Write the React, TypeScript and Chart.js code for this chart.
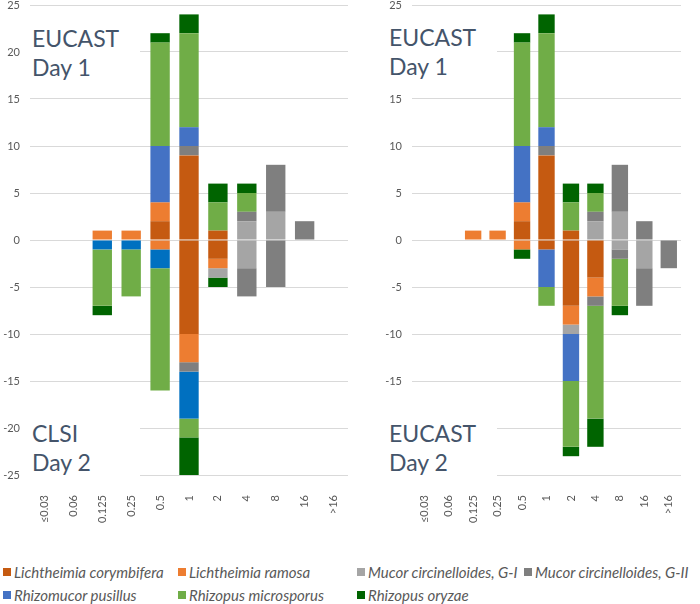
import React, { useEffect, useRef } from "react";
import { Chart, registerables } from "chart.js";

Chart.register(...registerables);

// ---------- DATA ----------
const categories = ["≤0.03", "0.06", "0.125", "0.25", "0.5", "1", "2", "4", "8", "16", ">16"];

const seriesNames = [
  "Lichtheimia corymbifera",
  "Lichtheimia ramosa",
  "Mucor circinelloides, G-I",
  "Mucor circinelloides, G-II",
  "Rhizomucor pusillus",
  "Rhizopus microsporus",
  "Rhizopus oryzae",
];

const seriesColors = ["#C55A11", "#ED7D31", "#A5A5A5", "#7F7F7F", "#4472C4", "#70AD47", "#006400"];
const clsiDay2Colors = ["#C55A11", "#ED7D31", "#A5A5A5", "#7F7F7F", "#0070C0", "#70AD47", "#006400"];

// EUCAST Day 1 (positive, both panels)
const d1Corymbifera = [0, 0, 0, 0, 2, 9, 1, 0, 0, 0, 0];
const d1Ramosa = [0, 0, 1, 1, 2, 0, 0, 0, 0, 0, 0];
const d1MucorGI = [0, 0, 0, 0, 0, 0, 0, 2, 3, 0, 0];
const d1MucorGII = [0, 0, 0, 0, 0, 1, 0, 1, 5, 2, 0];
const d1Pusillus = [0, 0, 0, 0, 6, 2, 0, 0, 0, 0, 0];
const d1Microsporus = [0, 0, 0, 0, 11, 10, 3, 2, 0, 0, 0];
const d1Oryzae = [0, 0, 0, 0, 1, 2, 2, 1, 0, 0, 0];

// CLSI Day 2 (negative, left panel)
const clsiCorymbifera = [0, 0, 0, 0, 0, -10, -2, 0, 0, 0, 0];
const clsiRamosa = [0, 0, 0, 0, -1, -3, -1, 0, 0, 0, 0];
const clsiMucorGI = [0, 0, 0, 0, 0, 0, -1, -3, 0, 0, 0];
const clsiMucorGII = [0, 0, 0, 0, 0, -1, 0, -3, -5, 0, 0];
const clsiPusillus = [0, 0, -1, -1, -2, -5, 0, 0, 0, 0, 0];
const clsiMicrosporus = [0, 0, -6, -5, -13, -2, 0, 0, 0, 0, 0];
const clsiOryzae = [0, 0, -1, 0, 0, -4, -1, 0, 0, 0, 0];

// EUCAST Day 2 (negative, right panel)
const e2Corymbifera = [0, 0, 0, 0, 0, -1, -7, -4, 0, 0, 0];
const e2Ramosa = [0, 0, 0, 0, -1, 0, -2, -2, 0, 0, 0];
const e2MucorGI = [0, 0, 0, 0, 0, 0, -1, 0, -1, -3, 0];
const e2MucorGII = [0, 0, 0, 0, 0, 0, 0, -1, -1, -4, -3];
const e2Pusillus = [0, 0, 0, 0, 0, -4, -5, 0, 0, 0, 0];
const e2Microsporus = [0, 0, 0, 0, 0, -2, -7, -12, -5, 0, 0];
const e2Oryzae = [0, 0, 0, 0, -1, 0, -1, -3, -1, 0, 0];

const eucastDay1 = [d1Corymbifera, d1Ramosa, d1MucorGI, d1MucorGII, d1Pusillus, d1Microsporus, d1Oryzae];
const clsiDay2 = [clsiCorymbifera, clsiRamosa, clsiMucorGI, clsiMucorGII, clsiPusillus, clsiMicrosporus, clsiOryzae];
const eucastDay2 = [e2Corymbifera, e2Ramosa, e2MucorGI, e2MucorGII, e2Pusillus, e2Microsporus, e2Oryzae];

const yMin = -25;
const yMax = 25;
const yStep = 5;

// ---------- STYLE ----------
const TICK_COLOR = "#595959";
const GRID_COLOR = "#D9D9D9";
const TITLE_COLOR = "#44546A";
const FONT = "Lato, 'Open Sans', sans-serif";

function buildChart(
  canvas: HTMLCanvasElement,
  day1: number[][],
  day2: number[][],
  day2Colors: string[],
  yAxisWidth: number,
  rightPad: number
) {
  const datasets: any[] = [];
  day1.forEach((vals, i) => {
    datasets.push({
      label: seriesNames[i],
      data: vals.map((v) => (v === 0 ? null : v)),
      backgroundColor: seriesColors[i],
      stack: "s",
      barPercentage: 0.67,
      categoryPercentage: 1,
      borderWidth: 0,
    });
  });
  day2.forEach((vals, i) => {
    datasets.push({
      label: seriesNames[i] + " (day 2)",
      data: vals.map((v) => (v === 0 ? null : v)),
      backgroundColor: day2Colors[i],
      stack: "s",
      barPercentage: 0.67,
      categoryPercentage: 1,
      borderWidth: 0,
    });
  });

  return new Chart(canvas, {
    type: "bar",
    data: { labels: categories, datasets },
    options: {
      responsive: false,
      animation: false,
      devicePixelRatio: 1,
      layout: { padding: { left: 0, right: rightPad, top: 5, bottom: 0 } },
      plugins: { legend: { display: false }, tooltip: { enabled: false } },
      scales: {
        x: {
          stacked: true,
          grid: { display: false },
          border: { display: false },
          ticks: {
            minRotation: 90,
            maxRotation: 90,
            autoSkip: false,
            padding: 12,
            color: TICK_COLOR,
            font: { family: FONT, size: 11 },
          },
          afterFit: (s: any) => {
            s.height = 55;
            s.paddingLeft = 0;
            s.paddingRight = 0;
          },
        },
        y: {
          stacked: true,
          min: yMin,
          max: yMax,
          ticks: {
            stepSize: yStep,
            padding: 10,
            color: TICK_COLOR,
            font: { family: FONT, size: 11 },
          },
          grid: { color: GRID_COLOR, drawTicks: false, lineWidth: 1 },
          border: { display: false },
          afterFit: (s: any) => {
            s.width = yAxisWidth;
            s.paddingTop = 0;
            s.paddingBottom = 0;
          },
        },
      },
    } as any,
  });
}

const titleStyle = (left: number, top: number, width: number, height: number, padTop: number, padLeft: number): React.CSSProperties => ({
  position: "absolute",
  left,
  top,
  width: width - padLeft,
  height: height - padTop,
  paddingTop: padTop,
  paddingLeft: padLeft,
  background: "#FFFFFF",
  color: TITLE_COLOR,
  fontFamily: FONT,
  fontSize: 23,
  lineHeight: "29px",
  whiteSpace: "nowrap",
});

const legendCols = [3, 178, 357, 524];
const legendRows = [572, 595];
const legendPlacement = [
  [0, 0],
  [1, 0],
  [2, 0],
  [3, 0],
  [0, 1],
  [1, 1],
  [2, 1],
];

export default function App() {
  const leftRef = useRef<HTMLCanvasElement>(null);
  const rightRef = useRef<HTMLCanvasElement>(null);

  useEffect(() => {
    const c1 = buildChart(leftRef.current!, eucastDay1, clsiDay2, clsiDay2Colors, 30, 2);
    const c2 = buildChart(rightRef.current!, eucastDay1, eucastDay2, seriesColors, 62, 19);
    return () => {
      c1.destroy();
      c2.destroy();
    };
  }, []);

  return (
    <div style={{ position: "absolute", left: 0, top: 0, width: 700, height: 604, background: "#FFFFFF", overflow: "hidden" }}>
      <canvas ref={leftRef} width={350} height={530} style={{ position: "absolute", left: 0, top: 0, width: 350, height: 530 }} />
      <canvas ref={rightRef} width={350} height={530} style={{ position: "absolute", left: 350, top: 0, width: 350, height: 530 }} />

      <div style={titleStyle(30, 10, 110, 76, 14, 2)}>
        EUCAST
        <br />
        Day 1
      </div>
      <div style={titleStyle(30, 395, 110, 88, 24, 2)}>
        CLSI
        <br />
        Day 2
      </div>
      <div style={titleStyle(385, 10, 112, 76, 13, 4)}>
        EUCAST
        <br />
        Day 1
      </div>
      <div style={titleStyle(385, 395, 112, 88, 24, 4)}>
        EUCAST
        <br />
        Day 2
      </div>

      {legendPlacement.map(([c, r], i) => (
        <div
          key={i}
          style={{
            position: "absolute",
            left: legendCols[c],
            top: legendRows[r] - 10,
            height: 20,
            display: "flex",
            alignItems: "center",
            fontFamily: FONT,
            fontStyle: "italic",
            fontSize: 15,
            color: TICK_COLOR,
            whiteSpace: "nowrap",
          }}
        >
          <span style={{ display: "inline-block", width: 8, height: 8, background: seriesColors[i], marginRight: 3 }} />
          <span>{seriesNames[i]}</span>
        </div>
      ))}
    </div>
  );
}
